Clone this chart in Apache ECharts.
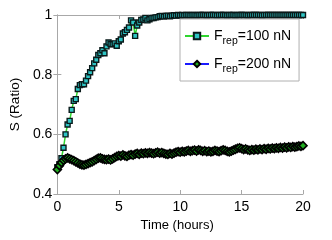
<!DOCTYPE html>
<html><head><meta charset="utf-8">
<script src="https://cdn.jsdelivr.net/npm/echarts@6/dist/echarts.min.js"></script>
<style>html,body{margin:0;padding:0;background:#fff}#c{width:332px;height:240px}</style>
</head><body><div id="c"></div>
<script>
// sample times in minutes (every 10 min, 0..1200)
const timesMin = [
  0,10,20,30,40,50,60,70,80,90,100,110,
  120,130,140,150,160,170,180,190,200,210,220,230,
  240,250,260,270,280,290,300,310,320,330,340,350,
  360,370,380,390,400,410,420,430,440,450,460,470,
  480,490,500,510,520,530,540,550,560,570,580,590,
  600,610,620,630,640,650,660,670,680,690,700,710,
  720,730,740,750,760,770,780,790,800,810,820,830,
  840,850,860,870,880,890,900,910,920,930,940,950,
  960,970,980,990,1000,1010,1020,1030,1040,1050,1060,1070,
  1080,1090,1100,1110,1120,1130,1140,1150,1160,1170,1180,1190,
  1200
];
const s100 = [
  0.490,0.500,0.520,0.555,0.600,0.633,0.645,0.682,0.712,0.718,0.752,0.765,
  0.768,0.768,0.780,0.795,0.808,0.822,0.838,0.850,0.866,0.872,0.882,0.872,
  0.895,0.908,0.903,0.902,0.905,0.897,0.912,0.918,0.938,0.942,0.950,0.958,
  0.982,0.975,0.930,0.965,0.975,0.983,0.985,0.990,0.982,0.986,0.990,0.990,
  0.992,0.993,0.996,0.997,0.995,0.997,0.998,0.996,0.998,0.999,0.998,1.000,
  0.999,1.000,0.999,1.000,1.000,0.999,1.000,1.000,0.999,1.000,1.000,1.000,
  1.000,0.999,1.000,1.000,1.000,1.000,0.999,1.000,1.000,1.000,1.000,0.999,
  1.000,1.000,1.000,0.999,1.000,1.000,1.000,1.000,1.000,0.999,1.000,1.000,
  1.000,1.000,1.000,1.000,0.999,1.000,1.000,1.000,1.000,1.000,1.000,1.000,
  1.000,1.000,1.000,1.000,1.000,1.000,1.000,1.000,1.000,1.000,1.000,1.000,
  1.000
];
const s200 = [
  0.482,0.495,0.505,0.513,0.518,0.521,0.518,0.515,0.512,0.508,0.504,0.500,
  0.498,0.497,0.499,0.502,0.505,0.508,0.512,0.516,0.520,0.521,0.518,0.516,
  0.515,0.517,0.514,0.518,0.522,0.526,0.529,0.527,0.531,0.528,0.526,0.530,
  0.532,0.530,0.534,0.536,0.533,0.537,0.535,0.538,0.536,0.539,0.537,0.535,
  0.538,0.540,0.537,0.539,0.536,0.534,0.533,0.536,0.534,0.537,0.540,0.542,
  0.540,0.543,0.541,0.544,0.546,0.543,0.545,0.547,0.544,0.548,0.546,0.543,
  0.545,0.542,0.544,0.541,0.543,0.546,0.544,0.542,0.545,0.548,0.546,0.543,
  0.541,0.544,0.547,0.550,0.553,0.555,0.552,0.549,0.551,0.548,0.546,0.549,
  0.547,0.550,0.548,0.551,0.549,0.552,0.550,0.553,0.551,0.554,0.552,0.555,
  0.553,0.556,0.554,0.557,0.555,0.558,0.556,0.559,0.557,0.559,0.561,0.560,
  0.562
];
const xTicks = [0,5,10,15,20];
const yTicks = [0.4,0.6,0.8,1];
const seriesNames = ['F_rep=100 nN','F_rep=200 nN'];

const hours = timesMin.map(m => m / 60);
const pairs = arr => hours.map((h, i) => [h, arr[i]]);

const FONT = 'Liberation Sans, Arial, sans-serif';
const frame = '#a8a8a8';
const chart = echarts.init(document.getElementById('c'), null, {renderer:'canvas'});
const boxAxis = {
  min: 0, max: 20, interval: 5,
  axisLine:{show:true,lineStyle:{color:frame,width:1}},
  axisTick:{show:true,inside:true,length:4,lineStyle:{color:frame}},
  splitLine:{show:false}
};
chart.setOption({
  animation:false,
  textStyle:{fontFamily:FONT},
  grid:{left:55,right:29,top:15,bottom:46,containLabel:false},
  xAxis:[
    Object.assign({}, boxAxis, {type:'value', position:'bottom',
      axisLabel:{show:true,color:'#000',fontSize:14,margin:6,fontFamily:FONT},
      name:'Time (hours)', nameLocation:'middle', nameGap:25,
      nameTextStyle:{color:'#000',fontSize:13,fontFamily:FONT,padding:[0,6,0,0]}}),
    Object.assign({}, boxAxis, {type:'value', position:'top', axisLabel:{show:false}})
  ],
  yAxis:[
    {type:'value', min:0.4, max:1, interval:0.2, position:'left',
      axisLine:{show:true,lineStyle:{color:frame}},
      axisTick:{show:true,inside:true,length:4,lineStyle:{color:frame}},
      splitLine:{show:false},
      axisLabel:{color:'#000',fontSize:14,margin:5,fontFamily:FONT,
        formatter:v => (Math.abs(v-1)<1e-9 ? '1' : (Math.round(v*10)/10).toString())},
      name:'S (Ratio)', nameLocation:'middle', nameGap:27, nameRotate:90,
      nameTextStyle:{color:'#000',fontSize:13.5,fontFamily:FONT}},
    {type:'value', min:0.4, max:1, interval:0.2, position:'right',
      axisLine:{show:true,lineStyle:{color:frame}},
      axisTick:{show:true,inside:true,length:4,lineStyle:{color:frame}},
      splitLine:{show:false}, axisLabel:{show:false}}
  ],
  legend:{
    orient:'vertical', left:180, top:19, width:120,
    padding:[6,8,6,4], itemGap:6, itemWidth:24, itemHeight:8,
    backgroundColor:'#fff', borderColor:'#b0b0b0', borderWidth:1,
    data:seriesNames,
    formatter: n => { const p = n.split('_'); const q = p[1].split('=');
      return '{a|' + p[0] + '}{s|' + q[0] + '}{a|=' + q[1] + '}'; },
    textStyle:{fontFamily:FONT, lineHeight:22,
      rich:{a:{fontSize:14,color:'#000',fontFamily:FONT,verticalAlign:'middle',lineHeight:22},
            s:{fontSize:10.5,color:'#000',fontFamily:FONT,verticalAlign:'bottom',lineHeight:22,padding:[10,0,0,0]}}}
  },
  series:[
    {name:seriesNames[0], type:'line', data:pairs(s100), z:2,
     showSymbol:true, showAllSymbol:true, symbol:'rect', symbolSize:5,
     lineStyle:{color:'#2fd62f', width:1.5},
     itemStyle:{color:'#2ec4c4', borderColor:'#0a1a1a', borderWidth:1.4}},
    {name:seriesNames[1], type:'line', data:pairs(s200), z:3,
     showSymbol:true, showAllSymbol:true, symbol:'diamond', symbolSize:8,
     lineStyle:{color:'#1a1aff', width:1},
     itemStyle:{color:'#1fae1f', borderColor:'#000', borderWidth:1.6}}
  ]
});
</script></body></html>
